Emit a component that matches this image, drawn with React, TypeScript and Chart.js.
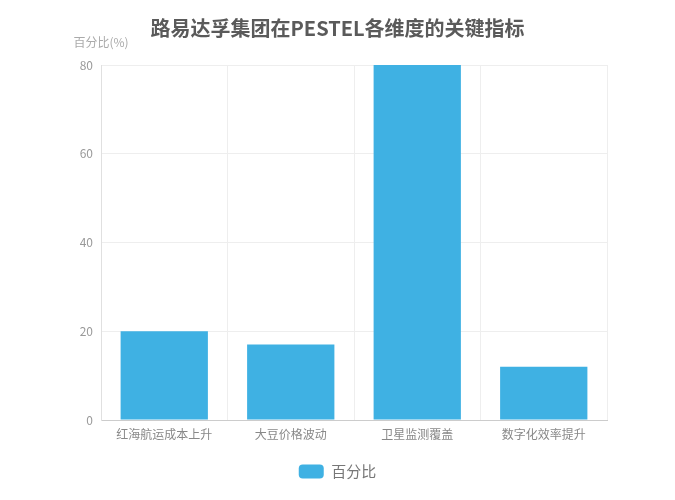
import React, { useEffect, useRef } from "react";
import { Chart, registerables } from "chart.js";

Chart.register(...registerables);

const categories = ["红海航运成本上升", "大豆价格波动", "卫星监测覆盖", "数字化效率提升"];
const values = [20, 17, 80, 12];
const seriesName = "百分比";
const yTicks = [0, 20, 40, 60, 80];
const titleText = "路易达孚集团在PESTEL各维度的关键指标";
const yAxisTitle = "百分比(%)";

const FONT = "'Noto Sans CJK SC', 'Noto Sans', sans-serif";

const yTitlePlugin = {
  id: "yTitlePlugin",
  afterDraw(chart: any) {
    const { ctx, chartArea } = chart;
    ctx.save();
    ctx.font = `12px ${FONT}`;
    ctx.fillStyle = "#aaaaaa";
    ctx.textAlign = "center";
    ctx.textBaseline = "middle";
    ctx.fillText(yAxisTitle, chartArea.left, 42);
    ctx.restore();
  },
};

export default function App() {
  const ref = useRef<HTMLCanvasElement | null>(null);
  useEffect(() => {
    document.body.style.margin = "0";
    const chart = new Chart(ref.current as HTMLCanvasElement, {
      type: "bar",
      data: {
        labels: categories,
        datasets: [
          {
            label: seriesName,
            data: values,
            backgroundColor: "#3fb1e3",
            borderWidth: 0,
            categoryPercentage: 1,
            barPercentage: 0.69,
          },
        ],
      },
      options: {
        animation: false,
        responsive: false,
        maintainAspectRatio: false,
        layout: { padding: { left: 0, right: 0, top: 0, bottom: 11 } },
        plugins: {
          title: {
            display: true,
            text: titleText,
            color: "#5a5a5a",
            font: { family: FONT, size: 20, weight: "bold" },
            padding: { top: 16, bottom: 25 },
          },
          legend: {
            display: true,
            position: "bottom",
            labels: {
              color: "#777777",
              font: { family: FONT, size: 15 },
              boxWidth: 25,
              boxHeight: 14,
              padding: 10,
              useBorderRadius: true,
              borderRadius: 4,
            },
          },
          tooltip: { enabled: false },
        },
        scales: {
          x: {
            grid: { color: "#eeeeee", drawTicks: false, offset: true },
            border: { color: "#cccccc" },
            ticks: {
              color: "#888888",
              font: { family: FONT, size: 12 },
              padding: 7,
              maxRotation: 0,
              autoSkip: false,
            },
            afterFit(scale: any) {
              scale.height = 34;
            },
          },
          y: {
            min: 0,
            max: 80,
            grid: { color: "#eeeeee", drawTicks: false },
            border: { color: "#e0e0e0" },
            afterBuildTicks(scale: any) {
              scale.ticks = yTicks.map((v) => ({ value: v }));
            },
            ticks: {
              color: "#999999",
              font: { family: FONT, size: 12 },
              padding: 8,
            },
            afterFit(scale: any) {
              scale.width = 101;
            },
          },
          yRight: {
            position: "right",
            min: 0,
            max: 80,
            grid: { display: false, drawTicks: false },
            border: { display: false },
            ticks: { display: false },
            afterFit(scale: any) {
              scale.width = 68;
            },
          },
        },
      },
      plugins: [yTitlePlugin],
    } as any);
    return () => chart.destroy();
  }, []);
  return (
    <div style={{ position: "absolute", left: 0, top: 0, width: 675, height: 500 }}>
      <canvas ref={ref} width={675} height={500} />
    </div>
  );
}
